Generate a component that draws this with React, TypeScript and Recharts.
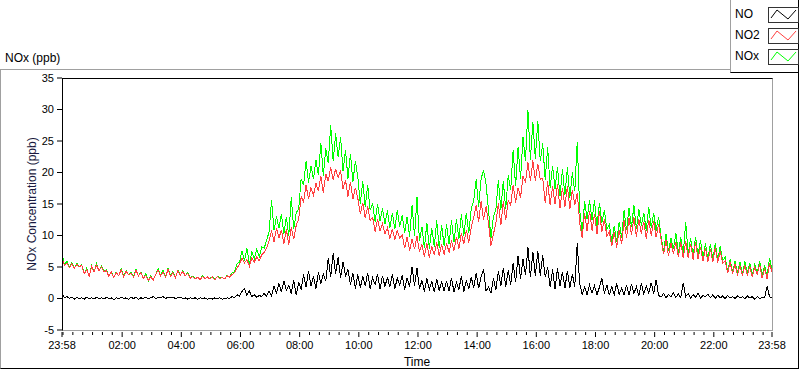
import React from 'react';
import { LineChart, Line, XAxis, YAxis } from 'recharts';

const FONT = '"Liberation Sans", Arial, sans-serif';

// one sample every 5 minutes, first sample at 23:58 (one row per hour)
const SAMPLE_MIN = 5;

const noValues = [
  0.8, 0.1, 0.3, 0.0, 0.2, -0.1, 0.2, 0.0, 0.1, -0.1, 0.2, 0.0,
  0.1, -0.1, 0.2, 0.0, 0.1, -0.1, 0.2, 0.0, 0.1, -0.2, 0.1, 0.0,
  0.2, 0.0, 0.1, -0.1, 0.2, 0.0, 0.2, -0.1, 0.1, 0.0, 0.2, 0.0,
  0.1, 0.3, 0.0, 0.2, 0.1, 0.3, 0.0, 0.2, 0.1, 0.2, 0.0, 0.1,
  0.2, 0.0, 0.1, -0.1, 0.1, 0.0, 0.1, -0.1, 0.1, 0.0, 0.1, -0.1,
  0.1, -0.1, 0.1, 0.0, 0.1, -0.1, 0.0, 0.1, 0.0, 0.3, 0.1, 0.6,
  0.4, 1.1, 1.6, 0.5, 1.2, 0.3, 0.6, 0.2, 0.5, 0.3, 0.8, 0.4,
  1.2, 0.4, 1.9, 0.9, 2.4, 1.0, 2.8, 1.3, 2.1, 0.8, 2.9, 0.5,
  2.6, 1.4, 3.8, 1.8, 4.4, 2.0, 3.6, 1.5, 4.2, 2.3, 3.9, 2.8,
  6.4, 3.4, 7.2, 3.9, 6.6, 3.2, 5.8, 3.6, 4.6, 2.2, 4.0, 1.6,
  3.8, 1.7, 3.5, 2.0, 4.1, 1.6, 3.3, 2.2, 3.9, 1.5, 3.6, 1.9,
  3.4, 1.8, 3.9, 1.6, 3.2, 2.1, 3.7, 1.4, 3.3, 1.9, 5.0, 2.0,
  4.8, 1.5, 2.9, 1.1, 3.2, 1.4, 2.7, 1.0, 3.1, 1.3, 2.6, 1.2,
  2.8, 1.2, 3.3, 1.0, 2.5, 1.4, 3.6, 1.1, 2.9, 1.5, 3.4, 1.7,
  4.1, 1.6, 3.5, 4.6, 1.2, 1.8, 0.9, 3.2, 1.4, 4.3, 2.0, 4.9,
  1.8, 4.5, 2.2, 5.6, 2.6, 6.8, 3.1, 6.2, 3.8, 8.1, 3.4, 7.4,
  3.5, 7.6, 3.6, 6.9, 3.4, 5.0, 1.8, 4.6, 1.5, 4.8, 2.0, 4.2,
  1.6, 4.4, 1.7, 3.9, 1.9, 8.8, 2.3, 0.7, 1.8, 0.6, 2.1, 0.9,
  2.0, 0.6, 1.8, 3.2, 0.8, 2.2, 0.5, 1.9, 0.6, 2.4, 0.7, 1.6,
  0.6, 2.1, 0.5, 2.3, 0.8, 1.9, 0.4, 2.4, 0.7, 2.0, 0.9, 2.5,
  0.8, 3.0, 0.5, 0.2, 0.8, 0.1, 0.6, 0.3, 0.9, 0.2, 0.7, 0.1,
  2.5, 0.3, 0.8, 0.1, 0.6, 0.2, 0.9, 0.1, 0.5, 0.3, 0.7, 0.1,
  0.6, 0.0, 0.5, 0.1, 0.4, 0.0, 0.5, 0.1, 0.3, 0.0, 0.4, 0.1,
  0.3, 0.0, 0.4, 0.1, 0.3, -0.1, 0.3, 0.0, 0.2, 0.1, 1.9, 0.3,
  0.1,
];

const no2Values = [
  6.6, 5.2, 5.6, 4.9, 5.5, 4.8, 5.4, 5.0, 5.3, 3.9, 4.6, 3.5,
  5.1, 4.2, 5.3, 4.4, 5.0, 4.3, 4.4, 3.5, 4.2, 3.3, 4.1, 3.6,
  4.6, 3.5, 4.3, 3.8, 4.0, 3.4, 4.5, 3.6, 4.1, 3.2, 3.7, 2.8,
  3.5, 2.9, 3.8, 4.5, 3.6, 4.2, 3.4, 4.6, 3.5, 4.1, 3.3, 4.4,
  3.7, 4.3, 3.6, 4.0, 3.2, 3.5, 3.1, 3.4, 3.0, 3.5, 3.2, 3.4,
  3.1, 3.4, 3.0, 3.5, 3.2, 3.3, 3.1, 3.6, 3.4, 3.8, 4.1, 4.9,
  5.4, 6.4, 5.6, 6.2, 5.1, 6.5, 5.8, 6.6, 6.0, 6.9, 7.3, 8.0,
  9.2, 10.8, 9.0, 11.2, 9.6, 10.9, 8.6, 11.0, 8.5, 11.3, 9.4, 11.6,
  12.6, 16.2, 15.3, 18.0, 15.8, 17.6, 16.4, 18.3, 17.0, 19.5, 16.8, 19.8,
  18.6, 20.8, 18.9, 20.6, 19.2, 20.3, 17.4, 18.8, 16.2, 18.5, 15.8, 17.6,
  15.9, 13.4, 15.2, 12.8, 14.6, 12.4, 12.9, 10.6, 12.6, 10.8, 11.9, 10.3,
  11.2, 9.5, 11.0, 9.4, 10.8, 9.6, 10.1, 8.0, 9.8, 7.6, 9.5, 7.8,
  9.9, 7.4, 8.6, 6.6, 8.8, 6.5, 8.3, 6.9, 9.0, 6.7, 8.6, 7.0,
  8.8, 7.3, 9.2, 7.6, 9.8, 7.9, 10.4, 8.6, 10.9, 8.9, 11.3, 12.9,
  14.8, 12.2, 15.4, 12.5, 14.6, 12.0, 8.4, 10.2, 12.0, 15.1, 11.6, 15.4,
  12.4, 15.5, 14.8, 18.0, 15.2, 17.6, 16.0, 19.4, 18.4, 21.6, 18.6, 21.9,
  18.7, 21.4, 18.9, 19.1, 15.2, 18.6, 14.8, 17.8, 15.0, 18.2, 14.3, 17.6,
  14.6, 17.9, 14.2, 17.2, 14.9, 16.8, 12.0, 9.6, 13.6, 10.7, 13.9, 10.8,
  13.4, 10.2, 13.8, 10.6, 12.6, 9.9, 10.7, 8.3, 10.6, 8.1, 10.9, 8.6,
  12.4, 9.6, 12.8, 10.1, 12.9, 9.8, 12.6, 10.3, 12.2, 9.5, 12.5, 10.0,
  12.3, 9.7, 11.8, 9.4, 7.0, 9.3, 6.8, 8.8, 7.1, 9.0, 6.6, 8.9,
  6.4, 9.1, 6.5, 8.7, 6.2, 8.9, 6.3, 8.2, 5.9, 8.0, 5.8, 7.9,
  5.8, 8.1, 5.7, 7.6, 5.6, 6.0, 4.0, 5.8, 3.9, 5.4, 3.8, 5.2,
  3.6, 5.3, 3.7, 5.1, 3.4, 5.0, 3.8, 5.4, 3.2, 4.8, 3.1, 5.6,
  4.2,
];

const noxValues = [
  7.0, 5.4, 5.9, 5.0, 5.7, 4.8, 5.6, 5.0, 5.4, 3.9, 4.8, 3.5,
  5.2, 4.2, 5.5, 4.4, 5.1, 4.3, 4.6, 3.5, 4.3, 3.3, 4.2, 3.6,
  4.8, 3.5, 4.4, 3.8, 4.2, 3.4, 4.7, 3.6, 4.2, 3.2, 3.9, 2.8,
  3.6, 2.9, 3.8, 4.7, 3.7, 4.5, 3.4, 4.8, 3.6, 4.3, 3.3, 4.5,
  3.7, 4.4, 3.6, 4.1, 3.3, 3.5, 3.2, 3.4, 3.1, 3.6, 3.2, 3.4,
  3.2, 3.4, 3.1, 3.5, 3.3, 3.3, 3.1, 3.7, 3.4, 4.1, 4.2, 5.5,
  5.8, 7.6, 6.0, 8.0, 5.5, 7.4, 6.3, 7.9, 6.6, 8.2, 8.0, 9.2,
  10.6, 15.6, 10.8, 13.0, 11.2, 13.4, 10.2, 12.9, 10.0, 16.1, 11.0, 13.6,
  14.2, 19.0, 18.0, 21.8, 18.4, 21.0, 19.0, 22.0, 19.6, 24.7, 19.5, 23.8,
  21.5, 27.5, 21.8, 26.2, 22.4, 25.6, 20.2, 23.6, 19.0, 23.0, 18.5, 21.8,
  19.3, 15.0, 18.6, 14.5, 18.0, 14.0, 15.1, 12.2, 15.0, 12.3, 14.3, 11.8,
  14.0, 11.2, 13.6, 11.0, 14.0, 11.4, 13.2, 10.4, 13.0, 9.8, 14.8, 9.9,
  16.1, 9.2, 11.4, 8.0, 12.0, 7.9, 11.2, 8.2, 12.4, 8.0, 11.6, 8.4,
  11.8, 8.6, 12.4, 8.9, 12.6, 9.4, 13.4, 10.0, 13.6, 10.4, 14.2, 15.6,
  18.9, 14.5, 19.0, 20.4, 18.2, 14.0, 9.6, 13.0, 14.2, 18.8, 14.0, 18.6,
  14.2, 19.6, 17.2, 23.6, 17.8, 24.0, 19.0, 25.6, 21.8, 29.9, 22.0, 28.0,
  22.2, 28.2, 21.8, 24.6, 18.8, 24.0, 17.6, 21.0, 17.4, 20.9, 16.2, 20.6,
  16.4, 20.8, 16.0, 20.0, 17.0, 24.9, 14.0, 10.4, 15.4, 12.6, 15.6, 12.5,
  15.6, 11.4, 15.2, 12.0, 14.0, 11.0, 11.8, 9.0, 11.5, 8.9, 12.2, 9.6,
  14.0, 10.9, 14.4, 11.3, 14.8, 11.0, 14.2, 11.6, 13.6, 10.8, 14.5, 11.2,
  13.6, 10.8, 13.0, 9.9, 7.4, 10.2, 7.5, 9.6, 7.8, 10.4, 7.2, 9.7,
  7.0, 12.1, 7.0, 9.6, 6.7, 9.8, 6.8, 9.3, 6.4, 8.8, 6.2, 8.7,
  6.2, 8.8, 6.1, 8.3, 6.0, 6.6, 4.3, 6.2, 4.2, 5.9, 4.1, 5.8,
  3.9, 5.9, 4.0, 5.6, 3.7, 5.4, 4.1, 6.0, 3.5, 5.3, 3.5, 6.4,
  4.5,
];

// minutes since 23:58
const majorTicks = [0, 122, 242, 362, 482, 602, 722, 842, 962, 1082, 1202, 1322, 1440];
const majorLabels = ['23:58', '02:00', '04:00', '06:00', '08:00', '10:00', '12:00',
  '14:00', '16:00', '18:00', '20:00', '22:00', '23:58'];
const yTicks = [-5, 0, 5, 10, 15, 20, 25, 30, 35];

const series = [
  { key: 'NO', color: '#000000', values: noValues },
  { key: 'NO2', color: '#ff4040', values: no2Values },
  { key: 'NOx', color: '#00ff00', values: noxValues },
];

const data = noValues.map((_, i) => {
  const row: any = { t: i * SAMPLE_MIN };
  series.forEach(s => { row[s.key] = s.values[i]; });
  return row;
});

// 20 minute minor ticks on the clock (00:00 = minute 2)
const minorTicks: number[] = [];
for (let m = 2; m < 1440; m += 20) minorTicks.push(m);
const xTicks = Array.from(new Set([...majorTicks, ...minorTicks])).sort((a, b) => a - b);

const TimeTick = (props: any) => {
  const { x, y, payload } = props;
  const idx = majorTicks.indexOf(payload.value);
  const major = idx >= 0;
  return (
    <g>
      <line x1={x} x2={x} y1={y + 2} y2={y + (major ? 7 : 5)} stroke="#000" />
      {major && (
        <text x={x} y={y + 19} textAnchor="middle" fontSize={11} fontFamily={FONT} fill="#000">
          {majorLabels[idx]}
        </text>
      )}
    </g>
  );
};

const LegendSwatch = ({ color }: { color: string }) => (
  <svg width={29} height={14} style={{ position: 'absolute', left: 37, top: 0, border: '1px solid #333', background: '#fff' }}>
    <polyline points="2,10 8,2 19,11 27,2" fill="none" stroke={color} strokeWidth={1} />
  </svg>
);

const App: React.FC = () => {
  return (
    <div style={{ position: 'absolute', left: 0, top: 0, width: 800, height: 369, background: '#fff', fontFamily: FONT, overflow: 'hidden' }}>
      <style>{'.recharts-line-curve { shape-rendering: crispEdges; }'}</style>
      {/* outer panel */}
      <div style={{
        position: 'absolute', left: 0, top: 69, width: 799, height: 300, boxSizing: 'border-box',
        borderTop: '1px solid #a0a0a0', borderLeft: '1px solid #a0a0a0',
        borderRight: '1px solid #000', borderBottom: '1px solid #000',
      }} />
      <div style={{ position: 'absolute', left: 5, top: 51, fontSize: 12, color: '#000' }}>NOx (ppb)</div>

      <div style={{ position: 'absolute', left: 0, top: 0 }}>
        <LineChart width={800} height={369} data={data} margin={{ top: 78, right: 28, bottom: 0, left: 2 }}>
          <XAxis
            dataKey="t"
            type="number"
            domain={[0, 1440]}
            ticks={xTicks}
            interval={0}
            tick={<TimeTick />}
            tickLine={false}
            tickSize={0}
            tickMargin={0}
            axisLine={false}
            height={39}
            label={{ value: 'Time', position: 'insideBottom', offset: 3, fontSize: 12, fontFamily: FONT, fill: '#000' }}
          />
          <YAxis
            type="number"
            domain={[-5, 35]}
            ticks={yTicks}
            interval={0}
            width={60}
            axisLine={false}
            tickLine={{ stroke: '#000' }}
            tickSize={5}
            tickMargin={3}
            tick={{ fontSize: 11, fontFamily: FONT, fill: '#000' }}
            label={{ value: 'NOx Concentration (ppb)', angle: -90, position: 'center', fontSize: 12, fontFamily: FONT, fill: '#1a1a40' }}
          />
          {[...series].reverse().map(s => (
            <Line
              key={s.key}
              type="linear"
              dataKey={s.key}
              stroke={s.color}
              strokeWidth={1}
              dot={false}
              isAnimationActive={false}
            />
          ))}
        </LineChart>
      </div>

      {/* plot frame */}
      <div style={{
        position: 'absolute', left: 62, top: 78, width: 711, height: 253, boxSizing: 'border-box',
        borderTop: '1px solid #000', borderLeft: '1px solid #000',
        borderRight: '1px solid #a0a0a0', borderBottom: '1px solid #a0a0a0', pointerEvents: 'none',
      }} />

      {/* legend */}
      <div style={{
        position: 'absolute', left: 730, top: 0, width: 69, height: 73, boxSizing: 'border-box', background: '#fff',
        borderLeft: '1px solid #a0a0a0', borderRight: '1px solid #000', borderBottom: '1px solid #000',
      }}>
        {series.map((s, i) => (
          <div key={s.key} style={{ position: 'absolute', left: 0, top: 7 + i * 21, width: 68, height: 16 }}>
            <span style={{ position: 'absolute', left: 4, top: 0, fontSize: 12, lineHeight: '15px', color: '#000' }}>{s.key}</span>
            <LegendSwatch color={s.color} />
          </div>
        ))}
      </div>
    </div>
  );
};

export default App;
